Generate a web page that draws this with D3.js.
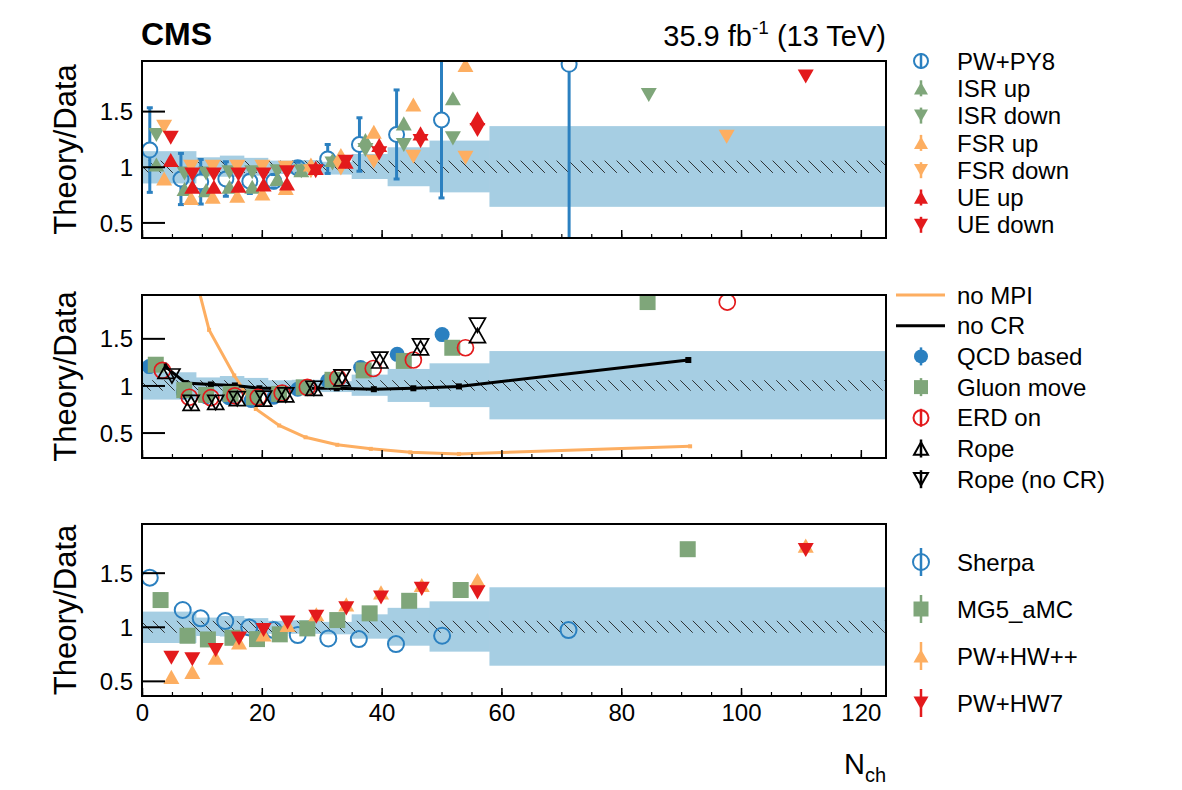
<!DOCTYPE html>
<html>
<head>
<meta charset="utf-8">
<script src="https://cdn.jsdelivr.net/npm/d3@7"></script>
<style>
  body { margin: 0; background: #fff; }
  text { font-family: "Liberation Sans", Arial, Helvetica, sans-serif; fill: #000; }
</style>
</head>
<body>
<svg id="chart" width="1182" height="790"></svg>
<script>
// ---------------- data ----------------
const nchTicks = [0, 20, 40, 60, 80, 100, 120];
const nchMinorTicks = d3.range(0, 125, 5);
const ratioTicks = [0.5, 1, 1.5];

// data uncertainty band (bin edges in N_ch, relative up / down widths)
const bandEdges = [0, 9, 13, 17, 21, 25, 30, 35, 41, 48, 58, 124.2];
const bandUp    = [0.14, 0.085, 0.10, 0.08, 0.055, 0.06, 0.045, 0.115, 0.175, 0.235, 0.365];
const bandDown  = [0.15, 0.085, 0.09, 0.08, 0.065, 0.065, 0.07, 0.11, 0.175, 0.23, 0.36];
const statUp    = 0.055;

// panel 1: PW+PY8 and its variations
const pwpy8N   = [1.3, 6.5, 9.8, 14, 18, 22, 26, 31, 36.3, 42.5, 50, 71.3];
const pwpy8    = [1.15, 0.89, 0.865, 0.89, 0.87, 0.87, 0.99, 1.07, 1.2, 1.29, 1.42, 1.92];
const pwpy8Err = [0.38, 0.23, 0.2, 0.155, 0.11, 0.06, 0.05, 0.13, 0.24, 0.4, 0.7, 2.0];

const isrN    = [2.4, 7.1, 10.7, 14.6, 18.4, 22.6, 26.6, 31.8, 37.3, 43.7, 51.9, 84.6];
const isrUp   = [1.02, 0.80, 0.79, 0.82, 0.82, 0.89, 0.97, 1.06, 1.24, 1.39, 1.615, null];
const isrDown = [1.285, 0.94, 0.94, 0.95, 0.95, 0.96, 0.96, 1.03, 1.15, 1.195, 1.255, 1.645];

const fsrN    = [3.7, 8.2, 11.8, 15.9, 20.1, 24, 28.2, 33.2, 38.7, 45.3, 54, 97.6];
const fsrUp   = [0.895, 0.72, 0.73, 0.74, 0.76, 0.81, 1.02, 1.105, 1.315, 1.56, 1.915, null];
const fsrDown = [1.36, 1.0, 1.0, 1.0, 1.0, 0.99, 0.96, 0.985, 1.045, 1.09, 1.08, 1.27];

const ueN    = [4.8, 8.4, 12, 16.1, 20.3, 24.2, 29, 34, 39.6, 46.5, 56, 110.8];
const ueUp   = [1.06, 0.82, 0.82, 0.83, 0.84, 0.85, 0.99, 1.045, 1.195, 1.30, 1.435, null];
const ueDown = [1.26, 0.93, 0.93, 0.93, 0.93, 0.95, 0.96, 1.045, 1.12, 1.23, 1.33, 1.81];

// panel 2: colour reconnection / MPI models
const noMpiN = [7.5, 11.2, 15.4, 19.0, 22.9, 27.3, 32.6, 38.2, 44.8, 52.9, 91.5];
const noMpi  = [2.5, 1.59, 1.106, 0.75, 0.575, 0.45, 0.37, 0.327, 0.29, 0.273, 0.354];
const noCrN  = [3.7, 7.3, 11.5, 15.5, 19.6, 23.5, 27.5, 32.5, 38.7, 45.3, 52.9, 91.2];
const noCr   = [1.21, 1.025, 1.01, 1.0, 0.97, 0.97, 0.97, 0.97, 0.96, 0.97, 0.99, 1.27];

const qcdN   = [1.2, 6.9, 10.7, 14.5, 18.2, 22, 26, 31, 36.5, 42.6, 50.1];
const qcd    = [1.20, 0.93, 0.88, 0.87, 0.84, 0.875, 0.96, 1.05, 1.19, 1.33, 1.54];
const gluonN = [2.3, 7.05, 10.7, 14.8, 18.7, 22.9, 27, 31.8, 37, 43.7, 51.8, 84.4];
const gluon  = [1.22, 0.95, 0.90, 0.91, 0.875, 0.91, 0.98, 1.06, 1.16, 1.26, 1.40, 1.885];
const erdN   = [3.4, 7.9, 11.5, 15.5, 19.4, 23.4, 27.6, 32.7, 38.6, 45.3, 54, 97.7];
const erd    = [1.16, 0.875, 0.87, 0.89, 0.875, 0.92, 0.98, 1.08, 1.18, 1.27, 1.40, 1.885];
const ropeN     = [4.0, 8.2, 12.3, 15.9, 20.3, 24, 28.7, 33.4, 39.7, 46.5, 56];
const rope      = [1.15, 0.81, 0.82, 0.86, 0.855, 0.90, 0.97, 1.07, 1.26, 1.40, 1.53];
const ropeNoCrN = [5.0, 8.2, 12.3, 15.9, 20.3, 24, 28.7, 33.4, 39.7, 46.5, 56];
const ropeNoCr  = [1.10, 0.82, 0.82, 0.86, 0.865, 0.90, 0.97, 1.09, 1.28, 1.42, 1.64];

// panel 3: other generators
const sherpaN = [1.3, 6.8, 9.8, 13.9, 17.9, 22, 26, 31.1, 36.2, 42.4, 50.1, 71.2];
const sherpa  = [1.454, 1.155, 1.078, 1.053, 0.994, 0.97, 0.923, 0.892, 0.886, 0.84, 0.917, 0.97];
const mg5N    = [3.1, 7.6, 11, 15.1, 19.2, 23, 27.6, 32.6, 38, 44.6, 53.2, 91.1];
const mg5     = [1.247, 0.917, 0.883, 0.898, 0.886, 0.93, 0.985, 1.062, 1.124, 1.24, 1.34, 1.717];
const herwigN = [4.9, 8.4, 12.3, 16.2, 20.3, 24.3, 29.1, 34.1, 39.9, 46.7, 56, 110.8];
const hwpp    = [0.537, 0.583, 0.713, 0.855, 0.93, 1.016, 1.115, 1.207, 1.318, 1.386, 1.432, 1.75];
const hw7     = [0.713, 0.70, 0.784, 0.892, 0.97, 1.04, 1.093, 1.17, 1.27, 1.35, 1.318, 1.71];

// ---------------- colours ----------------
const cBlue = '#2b80c0', cGreen = '#7fa67a', cOrange = '#fdae61', cRed = '#e31a1c', cBand = '#a6cee3';

const zip = (xs, ys) => xs.map((x, i) => ({ x: x, y: ys[i] })).filter(d => d.y !== null);

// marker path centred on its bounding box (ROOT style)
function markerPath(type, s) {
  const h = s / 2;
  const v = h * 0.88;
  switch (type) {
    case 'triUp':   return `M${-h},${v}L${h},${v}L0,${-v}Z`;
    case 'triDown': return `M${-h},${-v}L${h},${-v}L0,${v}Z`;
    case 'square':  return `M${-h},${-h}H${h}V${h}H${-h}Z`;
    default:        return d3.symbol().type(d3.symbolCircle).size(Math.PI * h * h)();
  }
}

class RatioPanel {

  /**
   * One ratio panel: band, hatched stat band, frame and axes
   */
  constructor(_config) {
    this.config = {
      parentElement: _config.parentElement,
      id: _config.id,
      top: _config.top,
      bottom: _config.bottom,
      left: 142,
      right: 886,
      yDomain: _config.yDomain,
      xLabels: _config.xLabels || false
    };
    this.initVis();
  }

  initVis() {
    let vis = this;
    const c = vis.config;

    vis.xScale = d3.scaleLinear().domain([0, 124.2]).range([c.left, c.right]);
    vis.yScale = d3.scaleLinear().domain(c.yDomain).range([c.bottom, c.top]);

    vis.svg = d3.select(c.parentElement);

    vis.svg.select('defs').append('clipPath')
      .attr('id', `clip-${c.id}`)
      .append('rect')
      .attr('x', c.left).attr('y', c.top)
      .attr('width', c.right - c.left).attr('height', c.bottom - c.top);

    vis.chart = vis.svg.append('g').attr('clip-path', `url(#clip-${c.id})`);

    // Data uncertainty band (stepped bins)
    const bins = bandUp.map((u, i) => ({ x0: bandEdges[i], x1: bandEdges[i + 1], up: u, down: bandDown[i] }));
    vis.chart.selectAll('.band')
      .data(bins)
      .join('rect')
      .attr('class', 'band')
      .attr('x', d => vis.xScale(d.x0))
      .attr('width', d => vis.xScale(d.x1) - vis.xScale(d.x0) + 0.5)
      .attr('y', d => vis.yScale(1 + d.up))
      .attr('height', d => vis.yScale(1 - d.down) - vis.yScale(1 + d.up))
      .attr('fill', cBand);

    // Hatched statistical band
    vis.chart.append('rect')
      .attr('x', vis.xScale(0))
      .attr('width', vis.xScale(124.2) - vis.xScale(0))
      .attr('y', vis.yScale(1 + statUp))
      .attr('height', vis.yScale(1 - statUp) - vis.yScale(1 + statUp))
      .attr('fill', 'url(#hatch)');

    vis.marks = vis.chart.append('g');

    // Axes
    const yAxis = d3.axisLeft(vis.yScale).tickValues(ratioTicks).tickSize(-23).tickPadding(9)
      .tickFormat(d3.format('~g'));
    vis.svg.append('g')
      .attr('transform', `translate(${c.left},0)`)
      .call(yAxis)
      .call(g => g.select('.domain').remove())
      .call(g => g.selectAll('line').attr('stroke', '#000').attr('stroke-width', 2))
      .call(g => g.selectAll('text').style('font-size', '24px').attr('dy', '0.36em'));

    const xMinor = d3.axisBottom(vis.xScale).tickValues(nchMinorTicks).tickSize(-4).tickFormat('');
    vis.svg.append('g')
      .attr('transform', `translate(0,${c.bottom})`)
      .call(xMinor)
      .call(g => g.select('.domain').remove())
      .call(g => g.selectAll('line').attr('stroke', '#000').attr('stroke-width', 1.2));

    const xAxis = d3.axisBottom(vis.xScale).tickValues(nchTicks).tickSize(-8).tickPadding(8)
      .tickFormat(c.xLabels ? d3.format('d') : '');
    vis.svg.append('g')
      .attr('transform', `translate(0,${c.bottom})`)
      .call(xAxis)
      .call(g => g.select('.domain').remove())
      .call(g => g.selectAll('line').attr('stroke', '#000').attr('stroke-width', 1.5))
      .call(g => g.selectAll('text').style('font-size', '24px'));

    // Frame
    vis.svg.append('rect')
      .attr('x', c.left).attr('y', c.top)
      .attr('width', c.right - c.left).attr('height', c.bottom - c.top)
      .attr('fill', 'none').attr('stroke', '#000').attr('stroke-width', 2);

    // Axis title
    vis.svg.append('text')
      .attr('transform', `translate(76,${(c.top + c.bottom) / 2}) rotate(-90)`)
      .attr('text-anchor', 'middle')
      .style('font-size', '31px')
      .text('Theory/Data');
  }

  addPoints(data, opt) {
    let vis = this;
    vis.marks.selectAll(null)
      .data(data)
      .join('path')
      .attr('transform', d => `translate(${vis.xScale(d.x)},${vis.yScale(d.y)})`)
      .attr('d', markerPath(opt.type, opt.size))
      .attr('fill', opt.open ? 'none' : opt.color)
      .attr('stroke', opt.open ? opt.color : 'none')
      .attr('stroke-width', opt.strokeWidth || 2);
  }

  addErrors(data, errs, color, gap) {
    let vis = this;
    const g = vis.marks.append('g').attr('stroke', color).attr('stroke-width', 3);
    data.forEach((d, i) => {
      const cx = vis.xScale(d.x);
      const cy = vis.yScale(d.y);
      const yTop = vis.yScale(d.y + errs[i]);
      const yBot = vis.yScale(d.y - errs[i]);
      g.append('line').attr('x1', cx).attr('x2', cx).attr('y1', yTop).attr('y2', cy - gap);
      g.append('line').attr('x1', cx).attr('x2', cx).attr('y1', cy + gap).attr('y2', yBot);
      g.append('line').attr('x1', cx - 3).attr('x2', cx + 3).attr('y1', yTop).attr('y2', yTop);
      g.append('line').attr('x1', cx - 3).attr('x2', cx + 3).attr('y1', yBot).attr('y2', yBot);
    });
  }

  addLine(data, color, markerSize) {
    let vis = this;
    const line = d3.line().x(d => vis.xScale(d.x)).y(d => vis.yScale(d.y));
    vis.marks.append('path')
      .datum(data)
      .attr('d', line)
      .attr('fill', 'none')
      .attr('stroke', color)
      .attr('stroke-width', 3);
    vis.marks.selectAll(null)
      .data(data)
      .join('rect')
      .attr('x', d => vis.xScale(d.x) - markerSize / 2)
      .attr('y', d => vis.yScale(d.y) - markerSize / 2)
      .attr('width', markerSize).attr('height', markerSize)
      .attr('fill', color);
  }
}

// ---------------- legend ----------------
function legend(svg, entries, x0, y0, step, barLen) {
  const g = svg.append('g');
  entries.forEach((e, i) => {
    const y = y0 + i * step;
    const row = g.append('g').attr('transform', `translate(${x0},${y})`);
    if (e.line) {
      row.append('line').attr('x1', -25).attr('x2', 24).attr('y1', 0).attr('y2', 0)
        .attr('stroke', e.color).attr('stroke-width', 3);
    } else {
      row.append('line').attr('x1', 0).attr('x2', 0).attr('y1', -barLen / 2).attr('y2', barLen / 2)
        .attr('stroke', e.color).attr('stroke-width', 2.5);
      row.append('path')
        .attr('d', markerPath(e.type, e.size))
        .attr('fill', e.open ? 'none' : e.color)
        .attr('stroke', e.open ? e.color : 'none')
        .attr('stroke-width', 2);
    }
    row.append('text')
      .attr('x', 36).attr('y', 0).attr('dy', '0.36em')
      .style('font-size', '24px')
      .text(e.label);
  });
}

// ---------------- build ----------------
const svg = d3.select('#chart');
svg.append('defs')
  .append('pattern')
  .attr('id', 'hatch')
  .attr('patternUnits', 'userSpaceOnUse')
  .attr('width', 12).attr('height', 12)
  .append('path')
  .attr('d', 'M0,0L12,12M-6,6L6,18M6,-6L18,6')
  .attr('stroke', '#222').attr('stroke-width', 0.9);

// Panel 1
const p1 = new RatioPanel({ parentElement: '#chart', id: 'p1', top: 61, bottom: 238, yDomain: [0.36, 1.95] });
const pw = zip(pwpy8N, pwpy8);
p1.addErrors(pw, pwpy8Err, cBlue, 7.5);
p1.addPoints(pw, { type: 'circle', size: 15, open: true, color: cBlue });
p1.addPoints(zip(isrN, isrUp), { type: 'triUp', size: 16, color: cGreen });
p1.addPoints(zip(isrN, isrDown), { type: 'triDown', size: 16, color: cGreen });
p1.addPoints(zip(fsrN, fsrUp), { type: 'triUp', size: 16, color: cOrange });
p1.addPoints(zip(fsrN, fsrDown), { type: 'triDown', size: 16, color: cOrange });
p1.addPoints(zip(ueN, ueUp), { type: 'triUp', size: 16, color: cRed });
p1.addPoints(zip(ueN, ueDown), { type: 'triDown', size: 16, color: cRed });

// Panel 2
const p2 = new RatioPanel({ parentElement: '#chart', id: 'p2', top: 295, bottom: 458, yDomain: [0.23, 1.96] });
p2.addLine(zip(noMpiN, noMpi), cOrange, 4);
p2.addLine(zip(noCrN, noCr), '#000', 6);
p2.addPoints(zip(qcdN, qcd), { type: 'circle', size: 15, color: cBlue });
p2.addPoints(zip(gluonN, gluon), { type: 'square', size: 16, color: cGreen });
p2.addPoints(zip(erdN, erd), { type: 'circle', size: 16, open: true, color: cRed, strokeWidth: 1.7 });
p2.addPoints(zip(ropeN, rope), { type: 'triUp', size: 16, open: true, color: '#000', strokeWidth: 1.7 });
p2.addPoints(zip(ropeNoCrN, ropeNoCr), { type: 'triDown', size: 16, open: true, color: '#000', strokeWidth: 1.7 });

// Panel 3
const p3 = new RatioPanel({ parentElement: '#chart', id: 'p3', top: 524, bottom: 696, yDomain: [0.36, 1.95], xLabels: true });
p3.addPoints(zip(sherpaN, sherpa), { type: 'circle', size: 16, open: true, color: cBlue });
p3.addPoints(zip(mg5N, mg5), { type: 'square', size: 16, color: cGreen });
p3.addPoints(zip(herwigN, hwpp), { type: 'triUp', size: 16, color: cOrange });
p3.addPoints(zip(herwigN, hw7), { type: 'triDown', size: 16, color: cRed });

// Legends
legend(svg, [
  { label: 'PW+PY8', type: 'circle', size: 14, open: true, color: cBlue },
  { label: 'ISR up', type: 'triUp', size: 14, color: cGreen },
  { label: 'ISR down', type: 'triDown', size: 14, color: cGreen },
  { label: 'FSR up', type: 'triUp', size: 14, color: cOrange },
  { label: 'FSR down', type: 'triDown', size: 14, color: cOrange },
  { label: 'UE up', type: 'triUp', size: 14, color: cRed },
  { label: 'UE down', type: 'triDown', size: 14, color: cRed }
], 921, 61, 27.3, 16);

legend(svg, [
  { label: 'no MPI', line: true, color: cOrange },
  { label: 'no CR', line: true, color: '#000' },
  { label: 'QCD based', type: 'circle', size: 14, color: cBlue },
  { label: 'Gluon move', type: 'square', size: 14, color: cGreen },
  { label: 'ERD on', type: 'circle', size: 15, open: true, color: cRed },
  { label: 'Rope', type: 'triUp', size: 14, open: true, color: '#000' },
  { label: 'Rope (no CR)', type: 'triDown', size: 14, open: true, color: '#000' }
], 921, 295, 30.7, 18);

legend(svg, [
  { label: 'Sherpa', type: 'circle', size: 16, open: true, color: cBlue },
  { label: 'MG5_aMC', type: 'square', size: 15, color: cGreen },
  { label: 'PW+HW++', type: 'triUp', size: 15, color: cOrange },
  { label: 'PW+HW7', type: 'triDown', size: 15, color: cRed }
], 921, 562, 47, 28);

// Titles
svg.append('text')
  .attr('x', 141).attr('y', 45)
  .style('font-size', '32px').style('font-weight', 'bold')
  .text('CMS');

const lumi = svg.append('text')
  .attr('x', 886).attr('y', 46)
  .attr('text-anchor', 'end')
  .style('font-size', '29px');
lumi.append('tspan').text('35.9 fb');
lumi.append('tspan').attr('dy', -12).style('font-size', '19px').text('-1');
lumi.append('tspan').attr('dy', 12).text(' (13 TeV)');

const xTitle = svg.append('text')
  .attr('x', 886).attr('y', 774)
  .attr('text-anchor', 'end')
  .style('font-size', '29px');
xTitle.append('tspan').text('N');
xTitle.append('tspan').attr('dy', 8).style('font-size', '20px').text('ch');
</script>
</body>
</html>
